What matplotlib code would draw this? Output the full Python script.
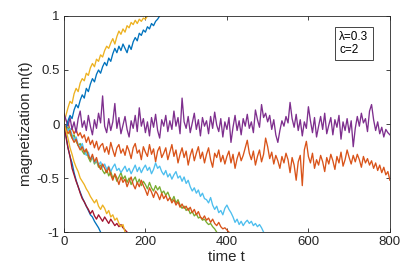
import numpy as np
import matplotlib
matplotlib.use("Agg")
import matplotlib.pyplot as plt

plt.rcParams['font.family'] = ['Liberation Sans', 'DejaVu Sans']

# sample spacing of the trajectories (time units)
dt = 5

# matlab default colour order
c_blue = '#0072BD'
c_orange = '#D95319'
c_yellow = '#EDB120'
c_purple = '#7E2F8E'
c_green = '#77AC30'
c_lblue = '#4DBEEE'
c_red = '#A2142F'

blue_down = [0.00, -0.10, -0.22, -0.30, -0.36, -0.45, -0.52, -0.58, -0.63, -0.68,
             -0.72, -0.76, -0.80, -0.84, -0.86, -0.90, -0.93, -0.96, -1.00]

orange_long = [0.00, -0.03, 0.02, -0.06, -0.04, -0.09, -0.05, -0.11, -0.08, -0.13,
               -0.10, -0.17, -0.12, -0.19, -0.15, -0.22, -0.16, -0.24, -0.20, -0.18,
               -0.26, -0.21, -0.28, -0.17, -0.24, -0.30, -0.22, -0.19, -0.27, -0.23,
               -0.29, -0.20, -0.25, -0.32, -0.22, -0.18, -0.27, -0.24, -0.33, -0.21,
               -0.26, -0.30, -0.19, -0.28, -0.23, -0.35, -0.25, -0.21, -0.31, -0.27,
               -0.22, -0.33, -0.26, -0.19, -0.30, -0.24, -0.36, -0.28, -0.22, -0.31,
               -0.25, -0.38, -0.29, -0.23, -0.34, -0.27, -0.21, -0.32, -0.26, -0.36,
               -0.28, -0.22, -0.33, -0.40, -0.27, -0.31, -0.24, -0.35, -0.29, -0.37,
               -0.30, -0.25, -0.36, -0.28, -0.41, -0.32, -0.26, -0.34, -0.29, -0.22,
               -0.15, -0.27, -0.33, -0.25, -0.38, -0.30, -0.24, -0.35, -0.28, -0.13,
               -0.21, -0.32, -0.26, -0.37, -0.29, -0.34, -0.41, -0.30, -0.36, -0.27,
               -0.33, -0.45, -0.31, -0.38, -0.52, -0.35, -0.29, -0.57, -0.24, -0.16,
               -0.30, -0.36, -0.27, -0.41, -0.33, -0.38, -0.29, -0.35, -0.44, -0.31,
               -0.37, -0.28, -0.34, -0.42, -0.30, -0.36, -0.26, -0.39, -0.33, -0.24,
               -0.31, -0.37, -0.29, -0.35, -0.28, -0.33, -0.40, -0.30, -0.36, -0.32,
               -0.38, -0.34, -0.41, -0.36, -0.43, -0.38, -0.45, -0.40, -0.47, -0.44,
               -0.52]

yellow_up = [0.00, 0.08, 0.15, 0.21, 0.19, 0.28, 0.33, 0.30, 0.38, 0.42,
             0.40, 0.47, 0.45, 0.52, 0.56, 0.53, 0.60, 0.58, 0.64, 0.62,
             0.68, 0.72, 0.70, 0.75, 0.79, 0.74, 0.81, 0.86, 0.83, 0.88,
             0.85, 0.91, 0.89, 0.94, 0.92, 0.96, 0.93, 0.97, 0.95, 0.98,
             0.97, 1.00]

purple = [0.10, 0.04, -0.02, 0.06, -0.05, 0.02, -0.08, 0.05, 0.12, -0.03,
          0.03, -0.06, 0.08, -0.02, -0.10, 0.04, -0.04, 0.10, 0.01, 0.26,
          -0.02, -0.08, 0.05, -0.06, 0.02, 0.19, -0.04, 0.06, -0.09, -0.01,
          0.07, -0.05, -0.12, 0.03, -0.04, 0.08, -0.07, 0.15, -0.02, 0.05,
          -0.08, 0.02, -0.11, 0.06, -0.03, 0.09, -0.06, -0.13, 0.04, -0.02,
          0.08, -0.07, 0.03, -0.05, 0.12, -0.02, 0.06, -0.09, 0.24, 0.02,
          -0.04, 0.07, -0.08, 0.01, 0.10, -0.05, 0.04, -0.11, 0.06, -0.02,
          0.03, -0.09, 0.07, -0.04, 0.11, -0.01, -0.07, 0.05, -0.12, 0.02,
          -0.05, 0.06, -0.17, -0.03, 0.08, -0.06, 0.03, -0.10, 0.05, -0.02,
          0.09, -0.04, 0.02, -0.08, 0.13, 0.04, -0.03, 0.18, 0.06, 0.10,
          0.02, 0.08, -0.05, 0.04, -0.10, -0.17, -0.06, 0.03, -0.02, 0.07,
          0.01, 0.20, 0.05, -0.03, 0.09, -0.06, 0.04, -0.11, 0.02, -0.04,
          0.16, 0.03, -0.08, 0.06, -0.12, -0.02, 0.07, -0.05, 0.10, -0.09,
          -0.01, 0.06, -0.10, 0.04, -0.03, 0.08, -0.14, 0.02, -0.06, 0.05,
          -0.08, 0.03, -0.21, -0.04, 0.07, -0.02, 0.10, 0.01, 0.05, -0.07,
          0.12, 0.18, 0.04, -0.06, 0.02, -0.09, -0.03, -0.12, -0.05, -0.08,
          -0.10]

green = [0.00, -0.05, -0.03, -0.09, -0.13, -0.10, -0.16, -0.20, -0.18, -0.25,
         -0.28, -0.24, -0.31, -0.35, -0.30, -0.37, -0.34, -0.40, -0.38, -0.43,
         -0.46, -0.42, -0.48, -0.44, -0.50, -0.47, -0.53, -0.49, -0.45, -0.51,
         -0.48, -0.54, -0.50, -0.56, -0.52, -0.49, -0.55, -0.51, -0.57, -0.53,
         -0.56, -0.60, -0.54, -0.59, -0.62, -0.57, -0.61, -0.58, -0.64, -0.62,
         -0.66, -0.63, -0.68, -0.71, -0.67, -0.73, -0.70, -0.75, -0.78, -0.76,
         -0.80, -0.78, -0.83, -0.81, -0.85, -0.83, -0.87, -0.86, -0.89, -0.88,
         -0.91, -0.93, -0.92, -0.95, -0.97, -1.00]

light_blue = [0.00, -0.03, -0.06, -0.04, -0.10, -0.15, -0.12, -0.19, -0.22, -0.18,
              -0.25, -0.29, -0.26, -0.33, -0.30, -0.36, -0.33, -0.38, -0.35, -0.40,
              -0.37, -0.42, -0.39, -0.44, -0.40, -0.37, -0.43, -0.41, -0.45, -0.42,
              -0.39, -0.44, -0.41, -0.46, -0.42, -0.38, -0.44, -0.40, -0.45, -0.41,
              -0.38, -0.43, -0.40, -0.46, -0.42, -0.36, -0.41, -0.39, -0.44, -0.47,
              -0.43, -0.49, -0.46, -0.51, -0.47, -0.44, -0.50, -0.48, -0.53, -0.49,
              -0.55, -0.52, -0.58, -0.62, -0.59, -0.64, -0.61, -0.67, -0.64, -0.69,
              -0.70, -0.73, -0.68, -0.75, -0.79, -0.76, -0.82, -0.80, -0.84, -0.78,
              -0.75, -0.79, -0.82, -0.86, -0.91, -0.88, -0.93, -0.90, -0.94, -0.91,
              -0.89, -0.92, -0.90, -0.94, -0.92, -0.95, -0.93, -0.96, -1.00]

red_down = [0.00, -0.12, -0.22, -0.30, -0.41, -0.47, -0.53, -0.58, -0.64, -0.69,
            -0.72, -0.76, -0.79, -0.83, -0.80, -0.85, -0.88, -0.84, -0.87, -0.90,
            -0.86, -0.89, -0.92, -0.88, -0.91, -0.94, -0.92, -0.95, -0.93, -0.96,
            -0.98, -1.00]

blue_up = [0.00, -0.05, 0.03, 0.08, 0.05, 0.13, 0.18, 0.15, 0.22, 0.27,
           0.24, 0.33, 0.30, 0.37, 0.42, 0.39, 0.46, 0.50, 0.47, 0.53,
           0.57, 0.54, 0.61, 0.58, 0.65, 0.70, 0.66, 0.72, 0.68, 0.74,
           0.70, 0.66, 0.73, 0.69, 0.76, 0.80, 0.77, 0.84, 0.82, 0.87,
           0.85, 0.90, 0.88, 0.93, 0.91, 0.95, 0.97, 1.00]

orange_down = [0.00, -0.04, -0.09, -0.06, -0.13, -0.17, -0.14, -0.20, -0.24, -0.21,
               -0.26, -0.23, -0.29, -0.33, -0.28, -0.35, -0.31, -0.38, -0.42, -0.37,
               -0.41, -0.45, -0.40, -0.47, -0.52, -0.46, -0.50, -0.56, -0.49, -0.54,
               -0.51, -0.58, -0.53, -0.49, -0.56, -0.60, -0.54, -0.58, -0.52, -0.57,
               -0.61, -0.66, -0.59, -0.63, -0.68, -0.62, -0.65, -0.70, -0.64, -0.69,
               -0.66, -0.71, -0.68, -0.73, -0.70, -0.75, -0.72, -0.77, -0.74, -0.78,
               -0.76, -0.80, -0.77, -0.82, -0.79, -0.84, -0.81, -0.86, -0.88, -0.85,
               -0.89, -0.87, -0.91, -0.88, -0.92, -0.94, -0.91, -0.95, -0.97, -0.96,
               -0.98, -1.00]

yellow_down = [0.00, -0.06, -0.13, -0.22, -0.28, -0.35, -0.40, -0.44, -0.50, -0.53,
               -0.56, -0.60, -0.63, -0.67, -0.70, -0.73, -0.70, -0.76, -0.79, -0.75,
               -0.78, -0.83, -0.80, -0.86, -0.84, -0.89, -0.87, -0.92, -0.95, -0.93,
               -1.00]

series = [
    (blue_down, c_blue),
    (orange_long, c_orange),
    (yellow_up, c_yellow),
    (purple, c_purple),
    (green, c_green),
    (light_blue, c_lblue),
    (red_down, c_red),
    (blue_up, c_blue),
    (orange_down, c_orange),
    (yellow_down, c_yellow),
]

fig = plt.figure(figsize=(4.07, 2.75), dpi=100)
ax = fig.add_axes([0.157, 0.156, 0.801, 0.786])

for vals, col in series:
    t = np.arange(len(vals)) * dt
    ax.plot(t, vals, color=col, linewidth=0.95)

ax.set_xlim(0, 800)
ax.set_ylim(-1, 1)
ax.set_xticks([0, 200, 400, 600, 800])
ax.set_yticks([-1, -0.5, 0, 0.5, 1])
ax.set_yticklabels(['-1', '-0.5', '0', '0.5', '1'])
ax.set_xlabel('time t', fontsize=10.8, color='#262626', labelpad=1)
ax.set_ylabel('magnetization m(t)', fontsize=10.8, color='#262626', labelpad=3)

ax.tick_params(direction='in', top=True, right=True, length=3, width=0.6,
               labelsize=9.5, colors='#262626', pad=3)
for sp in ax.spines.values():
    sp.set_linewidth(0.6)
    sp.set_color('#262626')

ax.text(0.845, 0.93, '\u03bb=0.3\nc=2', transform=ax.transAxes,
        fontsize=8.5, va='top', ha='left', linespacing=1.1,
        bbox=dict(boxstyle='square,pad=0.35', facecolor='white',
                  edgecolor='#262626', linewidth=0.6))

fig.savefig('out.png', dpi=100)
